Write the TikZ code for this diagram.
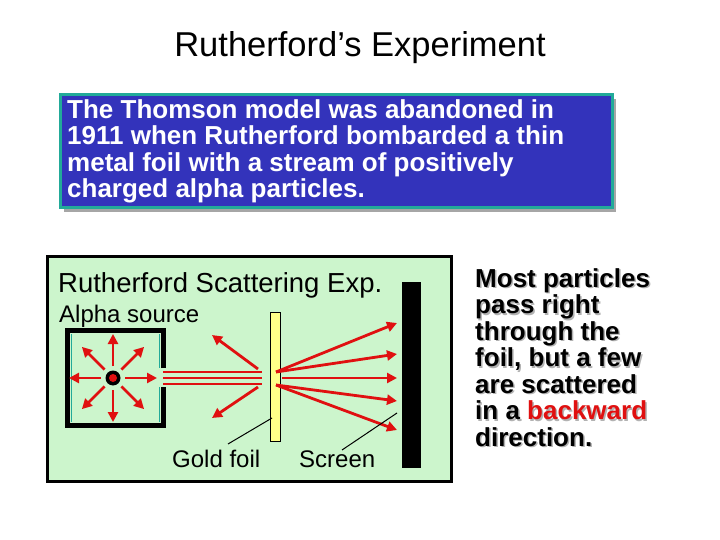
\documentclass[tikz,border=0pt]{standalone}
\usepackage{fontspec}
\setmainfont{Liberation Sans}
\usetikzlibrary{arrows.meta,calc}
\definecolor{bluebg}{HTML}{3333BB}
\definecolor{teal2}{HTML}{22AA99}
\definecolor{greenbg}{HTML}{CCF5CC}
\definecolor{redA}{HTML}{E01010}
\definecolor{foil}{HTML}{FFFF88}
\tikzset{ray/.style={redA,line width=2.8pt,-{Triangle[length=10pt,width=10pt]}},
 beam/.style={redA,line width=2.6pt},
 ptr/.style={black,line width=1pt}}
\begin{document}
\begin{tikzpicture}[x=1pt,y=-1pt]
\useasboundingbox (0,0) rectangle (720,540);
\fill[white] (0,0) rectangle (720,540);
\node[anchor=base,font=\fontsize{34.5}{38}\selectfont,inner sep=0pt] (title) at (360,57) {Rutherford’s Experiment};
% blue box
\fill[gray!70] (64,99) rectangle (616,212);
\draw[teal2,line width=3pt,fill=bluebg] (60,95) rectangle (612,208);
\node[anchor=north west,align=left,text=white,font=\bfseries\fontsize{26}{26.5}\selectfont,inner sep=0pt] (intro) at (67,99)
 {The Thomson model was abandoned in\\1911 when Rutherford bombarded a thin\\metal foil with a stream of positively\\charged alpha particles.};
% green box
\draw[black,line width=3pt,fill=greenbg] (47,256) rectangle (451,481);
\node[anchor=base west,font=\fontsize{27.5}{30}\selectfont,inner sep=0pt] (h) at (58,292) {Rutherford Scattering Exp.};
\node[anchor=base west,font=\fontsize{24}{26}\selectfont,inner sep=0pt] (as) at (59,322) {Alpha source};
% source box
\draw[black,line width=5pt] (163,368) -- (163,330.5) -- (67.5,330.5) -- (67.5,425.5) -- (163,425.5) -- (163,387);
\draw[teal2,line width=0.8pt] (71,334) -- (71,422);
\draw[teal2,line width=0.8pt] (159,334) -- (159,368) (159,387) -- (159,422);
\coordinate (c) at (113,378);
\foreach \a in {0,45,...,315}{\draw[ray] ($(c)+(\a:12)$) -- ($(c)+(\a:44)$);}
\fill[black] (c) circle (7.5);
\fill[redA] (c) circle (4);
% beams
\foreach \y in {372,378,384}{\draw[beam] (163,\y) -- (262,\y);}
\draw[ray] (258,369) -- (212,335);
\draw[ray] (258,387) -- (212,418);
% foil
\draw[black,fill=foil,line width=0.8pt] (270,312) rectangle (280,441);
\draw[ray] (276,372) -- (397,323);
\draw[ray] (276,372) -- (397,354);
\draw[ray] (282,378) -- (397,378);
\draw[ray] (276,385) -- (397,401);
\draw[ray] (276,385) -- (397,430);
% screen
\fill[black] (402,282) rectangle (421,468);
\node[anchor=base west,font=\fontsize{24}{26}\selectfont,inner sep=0pt] (gf) at (172,467) {Gold foil};
\node[anchor=base west,font=\fontsize{24}{26}\selectfont,inner sep=0pt] (sc) at (299,467) {Screen};
\draw[ptr] (228,444) -- (272,418);
\draw[ptr] (342,450) -- (397,413);
% right text
\node[anchor=north west,align=left,font=\bfseries\fontsize{26}{26.5}\selectfont,inner sep=0pt,text=gray!60] at (476.5,269.5)
 {Most particles\\pass right\\through the\\foil, but a few\\are scattered\\in a backward\\direction.};
\node[anchor=north west,align=left,font=\bfseries\fontsize{26}{26.5}\selectfont,inner sep=0pt] (rt) at (475,268)
 {Most particles\\pass right\\through the\\foil, but a few\\are scattered\\in a \textcolor{redA}{backward}\\direction.};
\end{tikzpicture}
\end{document}
